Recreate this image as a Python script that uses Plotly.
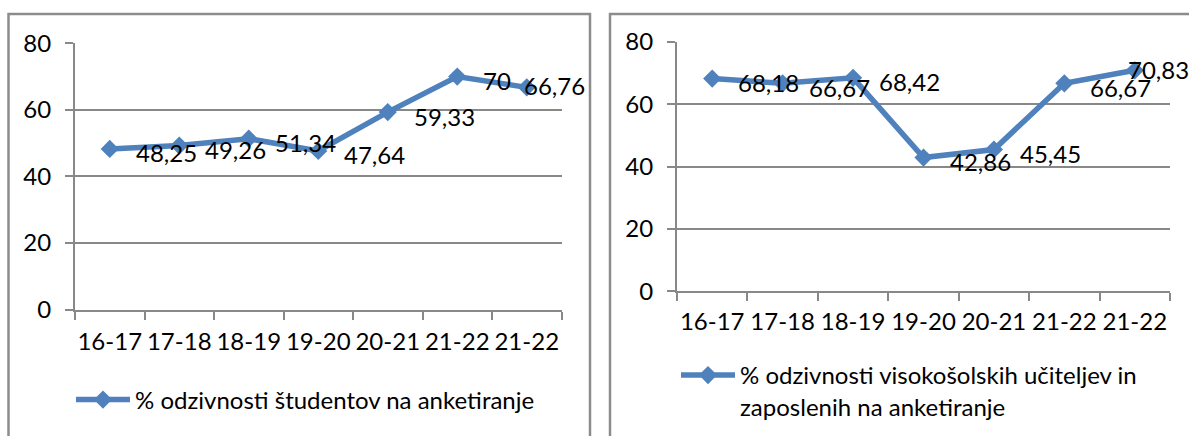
import plotly.graph_objects as go

W, H = 1189, 436

categories = ["16-17", "17-18", "18-19", "19-20", "20-21", "21-22", "21-22"]
students = [48.25, 49.26, 51.34, 47.64, 59.33, 70, 66.76]
staff = [68.18, 66.67, 68.42, 42.86, 45.45, 66.67, 70.83]
name_students = "% odzivnosti študentov na anketiranje"
name_staff = "% odzivnosti visokošolskih učiteljev in<br>zaposlenih na anketiranje"
y_ticks = [0, 20, 40, 60, 80]

BLUE = "#4F81BD"
GRAY = "#888888"
FONT = "Lato"
FS = 24

def px_x(p):
    return p / W

def px_y(p):
    return 1 - p / H

xpos = list(range(len(categories)))

fig = go.Figure()
fig.add_trace(go.Scatter(
    x=xpos, y=students, mode="lines+markers", name=name_students,
    line=dict(color=BLUE, width=5.5), marker=dict(symbol="diamond", size=14, color=BLUE),
    xaxis="x", yaxis="y", legend="legend"))
fig.add_trace(go.Scatter(
    x=xpos, y=staff, mode="lines+markers", name=name_staff,
    line=dict(color=BLUE, width=5.5), marker=dict(symbol="diamond", size=14, color=BLUE),
    xaxis="x2", yaxis="y2", legend="legend2"))

def fmt(v):
    s = f"{v:.2f}".rstrip("0").rstrip(".")
    return s.replace(".", ",")

annotations = []
for xs, ys, ax, last_shift in [(xpos, students, "", (-5, 2)), (xpos, staff, "2", (-9, 1))]:
    for i, (xi, yi) in enumerate(zip(xs, ys)):
        # data labels sit to the right of each point; the last one is nudged
        # left so it stays inside the chart frame (as in the original)
        xs_, ys_ = (24, -4) if i < len(xs) - 1 else last_shift
        annotations.append(dict(
            x=xi, y=yi, xref="x" + ax, yref="y" + ax, text=fmt(yi),
            showarrow=False, xanchor="left", yanchor="middle",
            xshift=xs_, yshift=ys_, font=dict(family=FONT, size=FS, color="#000")))

def xaxis_cfg(domain, anchor, standoff):
    return dict(
        domain=domain, anchor=anchor, range=[-0.5, len(categories) - 0.5],
        tickmode="array", tickvals=xpos, ticktext=categories, ticks="",
        showline=True, linecolor=GRAY, linewidth=2, showgrid=False, zeroline=False,
        tickfont=dict(family=FONT, size=FS, color="#000"), ticklabelstandoff=standoff,
        minor=dict(tick0=-0.5, dtick=1, ticks="outside", ticklen=8, tickwidth=2,
                   tickcolor=GRAY, showgrid=False),
        automargin=False, fixedrange=True)

def yaxis_cfg(domain, anchor):
    return dict(
        domain=domain, anchor=anchor, range=[0, 80], tickmode="array", tickvals=y_ticks,
        ticks="outside", ticklen=8, tickwidth=2, tickcolor=GRAY,
        showline=True, linecolor=GRAY, linewidth=2, showgrid=True, gridcolor=GRAY,
        gridwidth=2, zeroline=False, ticklabelstandoff=9,
        tickfont=dict(family=FONT, size=FS, color="#000"), automargin=False,
        fixedrange=True)

shapes = [
    dict(type="rect", xref="paper", yref="paper", x0=px_x(8.5), x1=px_x(590),
         y0=px_y(14), y1=px_y(460), line=dict(color="#8c8c8c", width=2.5)),
    dict(type="rect", xref="paper", yref="paper", x0=px_x(610), x1=px_x(1220),
         y0=px_y(14), y1=px_y(460), line=dict(color="#8c8c8c", width=2.5)),
]

legend_common = dict(xanchor="left", yanchor="middle", itemwidth=54,
                     font=dict(family=FONT, size=FS, color="#000"),
                     bgcolor="rgba(0,0,0,0)", valign="top", tracegroupgap=0)

fig.update_layout(
    width=W, height=H, margin=dict(l=0, r=0, t=0, b=0, autoexpand=False),
    paper_bgcolor="white", plot_bgcolor="white", template="none",
    font=dict(family=FONT, size=FS, color="#000"),
    xaxis=xaxis_cfg([px_x(75), px_x(561.5)], "y", 10),
    yaxis=yaxis_cfg([px_y(309.5), px_y(43.3)], "x"),
    xaxis2=xaxis_cfg([px_x(677), px_x(1170)], "y2", 8),
    yaxis2=yaxis_cfg([px_y(291.3), px_y(41.7)], "x2"),
    showlegend=True,
    legend=dict(x=px_x(71), y=px_y(400), **legend_common),
    legend2=dict(x=px_x(676), y=px_y(391), **legend_common),
    annotations=annotations,
    shapes=shapes,
)

fig.write_html("out.html", config={"displayModeBar": False},
               post_script="document.body.style.margin='0px';")
